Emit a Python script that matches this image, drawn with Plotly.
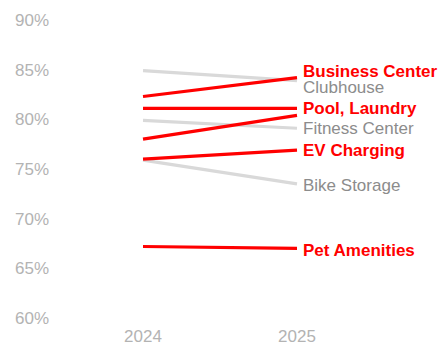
import plotly.graph_objects as go

years = ["2024", "2025"]
amenities = ["Clubhouse", "Fitness Center", "Bike Storage",
             "Business Center", "Pool", "Laundry", "EV Charging", "Pet Amenities"]
share_2024 = [84.9, 79.9, 75.9, 82.3, 81.1, 78.0, 76.0, 67.2]
share_2025 = [83.9, 79.1, 73.5, 84.2, 81.1, 80.4, 76.9, 67.0]
highlight = [False, False, False, True, True, True, True, True]
pct_ticks = [60, 65, 70, 75, 80, 85, 90]

# end labels: text, the series it sits next to, and a small vertical nudge (in %)
end_labels = [
    ("Business Center", "Business Center", 0.65),
    ("Clubhouse", "Clubhouse", -0.65),
    ("Pool, Laundry", "Pool", 0.0),
    ("Fitness Center", "Fitness Center", 0.0),
    ("EV Charging", "EV Charging", 0.0),
    ("Bike Storage", "Bike Storage", -0.15),
    ("Pet Amenities", "Pet Amenities", -0.2),
]

RED = "#ff0000"
GREY_LINE = "#d9d9d9"
GREY_TEXT = "#8c8c8c"
TICK = "#b3b3b3"
FONT = "Liberation Sans, Arial, Helvetica, sans-serif"

fig = go.Figure()
# muted series first so the highlighted ones sit on top
for flag in (False, True):
    for name, a, b, h in zip(amenities, share_2024, share_2025, highlight):
        if h != flag:
            continue
        fig.add_trace(go.Scatter(
            x=[0, 1], y=[a, b], mode="lines", name=name,
            line=dict(color=RED if h else GREY_LINE, width=3.2),
            hoverinfo="skip", showlegend=False,
        ))

lookup = dict(zip(amenities, zip(share_2025, highlight)))
for text, ref, nudge in end_labels:
    val, h = lookup[ref]
    fig.add_annotation(
        x=1, y=val + nudge, xref="x", yref="y", text=f"<b>{text}</b>" if h else text,
        showarrow=False, xanchor="left", xshift=5, borderpad=0,
        font=dict(family=FONT, size=17, color=RED if h else GREY_TEXT),
    )

fig.update_layout(
    width=447, height=346,
    margin=dict(l=60, r=0, t=20, b=28),
    paper_bgcolor="white", plot_bgcolor="white",
    font=dict(family=FONT, size=17, color=TICK),
    xaxis=dict(range=[-0.539, 1.974], tickvals=[0, 1], ticktext=years,
               showgrid=False, zeroline=False, showline=False,
               ticks="", ticklabelstandoff=6, fixedrange=True),
    yaxis=dict(range=[60, 90], tickvals=pct_ticks,
               ticktext=[f"{v}%" for v in pct_ticks],
               showgrid=False, zeroline=False, showline=False,
               ticks="", ticklabelstandoff=10, fixedrange=True),
)

fig.write_html("out.html")
